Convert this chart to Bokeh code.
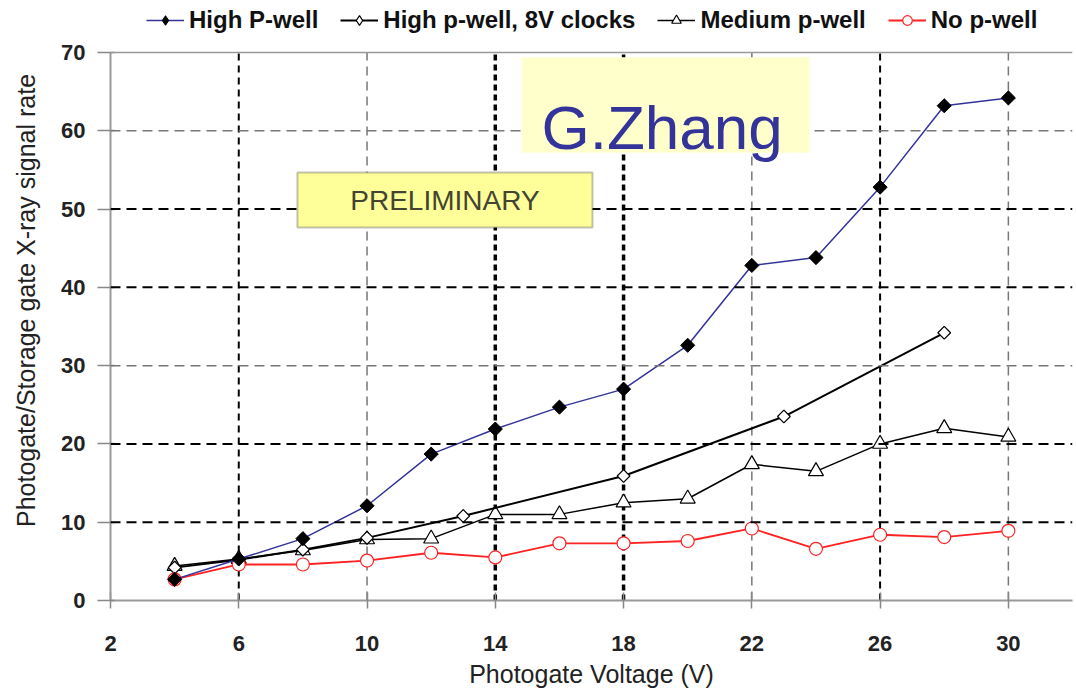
from bokeh.plotting import figure
from bokeh.models import (Range1d, FixedTicker, Span, BoxAnnotation, Label, Legend)
from bokeh.embed import file_html
from bokeh.resources import INLINE
import math

# ---------------- data ----------------
x_high = [4, 6, 8, 10, 12, 14, 16, 18, 20, 22, 24, 26, 28, 30]
y_high = [2.7, 5.3, 7.9, 12.1, 18.7, 21.9, 24.7, 27.0, 32.6, 42.8, 43.8, 52.8, 63.2, 64.2]

x_8v = [4, 6, 8, 10, 13, 18, 23, 28]
y_8v = [4.2, 5.2, 6.5, 8.0, 10.8, 15.9, 23.5, 34.2]

x_med = [4, 6, 8, 10, 12, 14, 16, 18, 20, 22, 24, 26, 28, 30]
y_med = [4.4, 5.3, 6.4, 7.8, 7.9, 11.0, 11.0, 12.5, 13.0, 17.4, 16.5, 20.0, 22.0, 20.9]

x_no = [4, 6, 8, 10, 12, 14, 16, 18, 20, 22, 24, 26, 28, 30]
y_no = [2.7, 4.6, 4.6, 5.1, 6.1, 5.5, 7.3, 7.3, 7.6, 9.2, 6.6, 8.4, 8.1, 8.9]

series_names = ["High P-well", "High p-well, 8V clocks", "Medium p-well", "No p-well"]

x_ticks = [2, 6, 10, 14, 18, 22, 26, 30]
y_ticks = [0, 10, 20, 30, 40, 50, 60, 70]
x_grid = [6, 10, 14, 18, 22, 26, 30]
y_grid = [10, 20, 30, 40, 50, 60]

x_title = "Photogate Voltage (V)"
y_title = "Photogate/Storage gate X-ray signal rate"

Y_MAX = 70
Y_TOP = Y_MAX * 600 / 548   # extra room above the axes for the legend

# ---------------- figure ----------------
p = figure(frame_width=962, frame_height=600, output_backend="svg",
           toolbar_location=None,
           x_range=Range1d(2, 32), y_range=Range1d(0, Y_TOP),
           min_border_left=110, min_border_right=4, min_border_top=0,
           min_border_bottom=100)
p.background_fill_color = "white"
p.border_fill_color = "white"
p.outline_line_color = None
p.xgrid.visible = False
p.ygrid.visible = False

FONT = "Liberation Sans"

for ax in (p.xaxis[0], p.yaxis[0]):
    ax.axis_line_color = "#999999"
    ax.axis_line_width = 2
    ax.major_tick_line_color = "#888888"
    ax.major_tick_line_width = 1.5
    ax.minor_tick_line_color = None
    ax.major_label_text_font = FONT
    ax.major_label_text_font_style = "bold"
    ax.major_label_text_font_size = "22px"
    ax.major_label_text_color = "#222222"
    ax.axis_label_text_font = FONT
    ax.axis_label_text_font_style = "normal"
    ax.axis_label_text_font_size = "25px"
    ax.axis_label_text_color = "#222222"

p.xaxis.ticker = FixedTicker(ticks=x_ticks)
p.yaxis.ticker = FixedTicker(ticks=y_ticks)
p.yaxis.bounds = (0, Y_MAX)
p.xaxis.major_tick_out = 8
p.xaxis.major_tick_in = 8
p.yaxis.major_tick_out = 13
p.yaxis.major_tick_in = 4
p.xaxis.major_label_standoff = 27
p.yaxis.major_label_standoff = 12
p.xaxis.axis_label = x_title
p.yaxis.axis_label = y_title
p.xaxis.axis_label_standoff = 6
p.yaxis.axis_label_standoff = 18

# ---------------- grid lines (dashed, varied weight) ----------------
vstyles = {6: ("black", 2, "7 5"), 10: ("#777777", 1.5, "9 6"),
           14: ("black", 3.5, "6 4"), 18: ("black", 3.5, "6 4"),
           22: ("#777777", 1.5, "9 6"), 26: ("black", 2, "7 5"),
           30: ("#777777", 1.5, "9 6")}
for gx in x_grid:
    c, w, d = vstyles[gx]
    p.segment(x0=[gx], y0=[0], x1=[gx], y1=[Y_MAX], line_color=c,
              line_width=w, line_dash=d)
hstyles = {10: ("black", 2), 20: ("black", 2), 30: ("#777777", 1.5),
           40: ("black", 2), 50: ("black", 2), 60: ("#777777", 1.5)}
for gy in y_grid:
    c, w = hstyles[gy]
    p.add_layout(Span(location=gy, dimension="width", line_color=c,
                      line_width=w, line_dash="10 6"))
# top frame line
p.add_layout(Span(location=Y_MAX, dimension="width", line_color="#999999",
                  line_width=1.5))

# ---------------- annotation boxes ----------------
p.add_layout(BoxAnnotation(left=14.82, right=23.8, bottom=57.2, top=69.4,
                           fill_color="#FFFFCC", fill_alpha=1.0, line_color=None))
p.add_layout(Label(x=15.44, y=60.4, text="G.Zhang", text_font=FONT,
                   text_font_size="62px", text_color="#333399",
                   text_baseline="alphabetic"))
p.add_layout(BoxAnnotation(left=7.83, right=17.03, bottom=47.64, top=54.67,
                           fill_color="#FFFF99", fill_alpha=1.0,
                           line_color="#333333", line_width=2))
p.add_layout(Label(x=12.43, y=51.15, text="PRELIMINARY", text_font=FONT,
                   text_font_size="28px", text_color="#444433",
                   text_align="center", text_baseline="middle"))

# ---------------- series ----------------
ROT = math.pi / 4
r_med_l = p.line(x_med, y_med, line_color="black", line_width=1.5)
r_med_m = p.scatter(x_med, y_med, marker="triangle", size=15, fill_color="white",
                    line_color="black", line_width=1.2)
r_8v_l = p.line(x_8v, y_8v, line_color="black", line_width=2)
lg_8v = p.scatter(x_8v, y_8v, marker="diamond", size=12, fill_color="white",
                  line_color="black", line_width=1.2)
r_8v_m = p.scatter(x_8v, y_8v, marker="square", angle=ROT, size=9, fill_color="white",
                   line_color="black", line_width=1.2)
r_no_l = p.line(x_no, y_no, line_color="#FF2222", line_width=1.8)
r_no_m = p.scatter(x_no, y_no, marker="circle", size=13, fill_color="white",
                   line_color="#FF2222", line_width=1.2)
r_hi_l = p.line(x_high, y_high, line_color="#333399", line_width=1.5)
lg_hi = p.scatter(x_high, y_high, marker="diamond", size=12, fill_color="black",
                  line_color="black")
r_hi_m = p.scatter(x_high, y_high, marker="square", angle=ROT, size=10,
                   fill_color="black", line_color="black")

legend = Legend(items=[(series_names[0], [r_hi_l, lg_hi]),
                       (series_names[1], [r_8v_l, lg_8v]),
                       (series_names[2], [r_med_l, r_med_m]),
                       (series_names[3], [r_no_l, r_no_m])],
                orientation="horizontal", location=(36, 566))
legend.label_text_font = FONT
legend.label_text_font_size = "24px"
legend.label_text_font_style = "bold"
legend.label_text_color = "#111111"
legend.glyph_width = 38
legend.glyph_height = 24
legend.label_standoff = 5
legend.spacing = 22
legend.padding = 2
legend.margin = 0
legend.border_line_color = None
legend.background_fill_alpha = 0
p.add_layout(legend)

open("out.html", "w").write(file_html(p, INLINE))
